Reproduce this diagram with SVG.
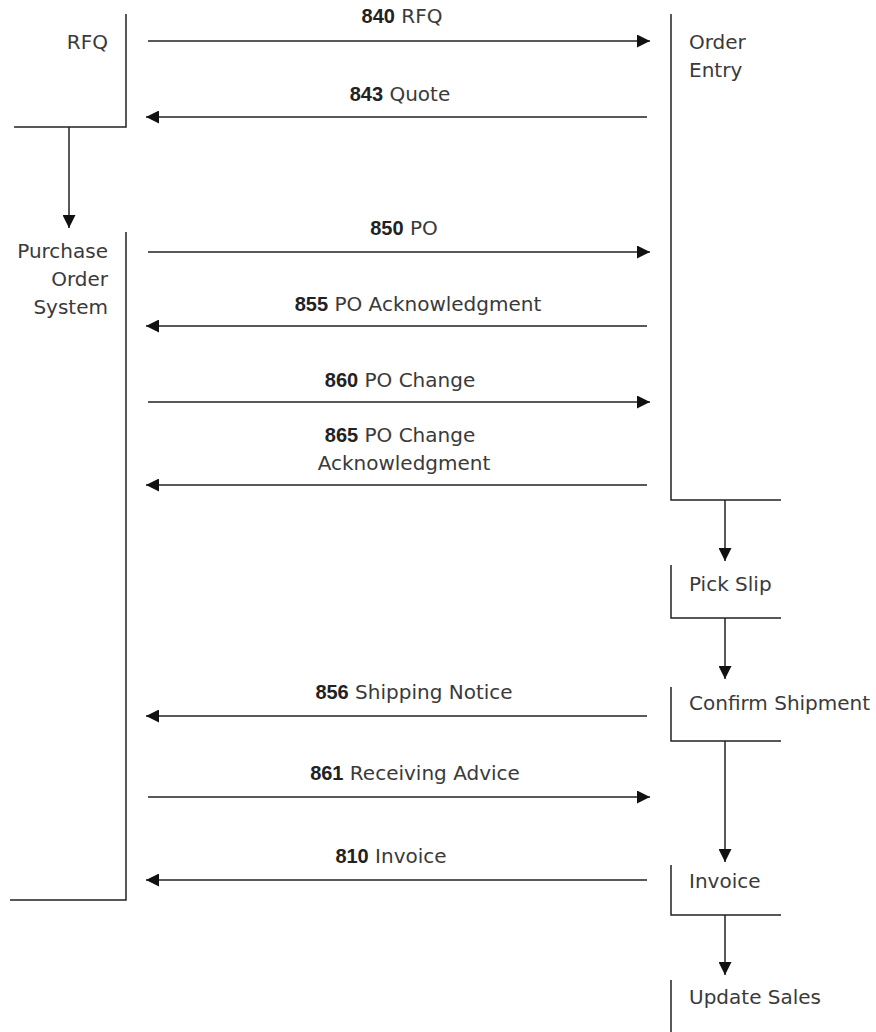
<svg xmlns="http://www.w3.org/2000/svg" width="876" height="1032" viewBox="0 0 876 1032">
  <style>
    .ln { stroke: #222; stroke-width: 1.5; fill: none; }
    .lbl { font-family: "DejaVu Sans", "Liberation Sans", sans-serif; font-size: 20px; fill: #3a3a3a; }
    .r { text-anchor: end; }
    .c { text-anchor: middle; }
    .num { font-family: "Liberation Sans", "DejaVu Sans", sans-serif; font-weight: bold; fill: #222; }
  </style>
  <defs>
    <marker id="ah" viewBox="0 0 13 13" refX="13" refY="6.5" markerWidth="13" markerHeight="13" markerUnits="userSpaceOnUse" orient="auto">
      <path d="M0,0 L13,6.5 L0,13 z" fill="#111"/>
    </marker>
  </defs>
  <rect width="876" height="1032" fill="#fff"/>

  <!-- process brackets -->
  <g id="rfq">
    <path class="ln" d="M126,14 V127 H14"/>
    <text class="lbl r" x="108" y="49">RFQ</text>
  </g>
  <g id="po-system">
    <path class="ln" d="M126,232 V900 H10"/>
    <text class="lbl r" x="108" y="258">Purchase</text>
    <text class="lbl r" x="108" y="286">Order</text>
    <text class="lbl r" x="108" y="314">System</text>
  </g>
  <g id="order-entry">
    <path class="ln" d="M671,14 V500 H781"/>
    <text class="lbl" x="689" y="49">Order</text>
    <text class="lbl" x="689" y="77">Entry</text>
  </g>
  <g id="pick-slip">
    <path class="ln" d="M671,565 V618 H781"/>
    <text class="lbl" x="689" y="591">Pick Slip</text>
  </g>
  <g id="confirm-shipment">
    <path class="ln" d="M671,687 V741 H781"/>
    <text class="lbl" x="689" y="710">Confirm Shipment</text>
  </g>
  <g id="invoice">
    <path class="ln" d="M671,865 V915 H781"/>
    <text class="lbl" x="689" y="888">Invoice</text>
  </g>
  <g id="update-sales">
    <path class="ln" d="M671,980 V1032"/>
    <text class="lbl" x="689" y="1004">Update Sales</text>
  </g>

  <!-- transaction flows -->
  <g id="connectors">
    <line class="ln" x1="69" y1="127" x2="69" y2="228" marker-end="url(#ah)"/>
    <line class="ln" x1="725" y1="500" x2="725" y2="561" marker-end="url(#ah)"/>
    <line class="ln" x1="725" y1="618" x2="725" y2="679" marker-end="url(#ah)"/>
    <line class="ln" x1="725" y1="741" x2="725" y2="862" marker-end="url(#ah)"/>
    <line class="ln" x1="725" y1="915" x2="725" y2="975" marker-end="url(#ah)"/>

    <line class="ln" x1="148" y1="41" x2="650" y2="41" marker-end="url(#ah)"/>
    <line class="ln" x1="647" y1="117" x2="146" y2="117" marker-end="url(#ah)"/>
    <line class="ln" x1="148" y1="252" x2="650" y2="252" marker-end="url(#ah)"/>
    <line class="ln" x1="647" y1="326" x2="146" y2="326" marker-end="url(#ah)"/>
    <line class="ln" x1="148" y1="402" x2="650" y2="402" marker-end="url(#ah)"/>
    <line class="ln" x1="647" y1="485" x2="146" y2="485" marker-end="url(#ah)"/>
    <line class="ln" x1="647" y1="716" x2="146" y2="716" marker-end="url(#ah)"/>
    <line class="ln" x1="148" y1="797" x2="650" y2="797" marker-end="url(#ah)"/>
    <line class="ln" x1="647" y1="880" x2="146" y2="880" marker-end="url(#ah)"/>

    <text class="lbl c" x="402" y="23"><tspan class="num">840</tspan> RFQ</text>
    <text class="lbl c" x="400" y="101"><tspan class="num">843</tspan> Quote</text>
    <text class="lbl c" x="404" y="235"><tspan class="num">850</tspan> PO</text>
    <text class="lbl c" x="418" y="311"><tspan class="num">855</tspan> PO Acknowledgment</text>
    <text class="lbl c" x="400" y="387"><tspan class="num">860</tspan> PO Change</text>
    <text class="lbl c" x="400" y="442"><tspan class="num">865</tspan> PO Change</text>
    <text class="lbl c" x="404" y="470">Acknowledgment</text>
    <text class="lbl c" x="414" y="699"><tspan class="num">856</tspan> Shipping Notice</text>
    <text class="lbl c" x="415" y="780"><tspan class="num">861</tspan> Receiving Advice</text>
    <text class="lbl c" x="391" y="863"><tspan class="num">810</tspan> Invoice</text>
  </g>
</svg>
